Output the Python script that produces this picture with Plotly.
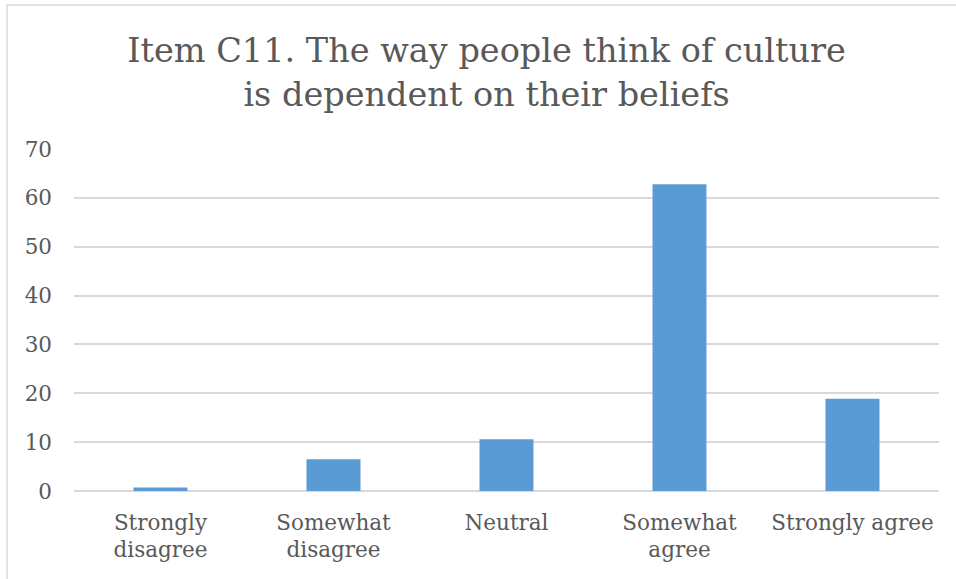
import plotly.graph_objects as go

# Survey responses (percent of respondents)
categories = ["Strongly<br>disagree", "Somewhat<br>disagree", "Neutral",
              "Somewhat<br>agree", "Strongly agree"]
percentages = [0.7, 6.5, 10.6, 62.8, 18.9]
y_ticks = [0, 10, 20, 30, 40, 50, 60, 70]

title_text = "Item C11. The way people think of culture<br>is dependent on their beliefs"

FONT = "DejaVu Serif"
TEXT_GRAY = "#595959"
GRID_GRAY = "#d9d9d9"

fig = go.Figure(
    go.Bar(
        x=categories,
        y=percentages,
        marker=dict(color="#5b9bd5", line=dict(width=0)),
        hoverinfo="x+y",
    )
)

fig.update_layout(
    width=956,
    height=579,
    margin=dict(l=74, r=17, t=149, b=88),
    paper_bgcolor="white",
    plot_bgcolor="white",
    bargap=0.688,
    showlegend=False,
    font=dict(family=FONT, color=TEXT_GRAY, size=21),
    title=dict(
        text=title_text,
        x=0.509,
        xanchor="center",
        xref="container",
        y=0.893,
        yanchor="top",
        yref="container",
        font=dict(family=FONT, size=33.5, color=TEXT_GRAY),
    ),
)

fig.update_yaxes(
    range=[0, 70],
    tickvals=y_ticks,
    showgrid=True,
    gridcolor=GRID_GRAY,
    gridwidth=1.5,
    zeroline=True,
    zerolinecolor=GRID_GRAY,
    zerolinewidth=1.5,
    showline=False,
    ticks="",
    ticklabelstandoff=21,
    tickfont=dict(family=FONT, size=21.5, color=TEXT_GRAY),
    fixedrange=True,
)

fig.update_xaxes(
    showgrid=False,
    showline=False,
    ticks="",
    ticklabelstandoff=16,
    tickfont=dict(family=FONT, size=21.5, color=TEXT_GRAY),
    fixedrange=True,
)

# Thin chart-area frame along the top and left edges
fig.add_shape(
    type="rect",
    xref="paper", yref="paper",
    x0=(7 - 74) / 865, x1=(970 - 74) / 865,
    y0=(491 - 590) / 342, y1=(491 - 5) / 342,
    line=dict(color=GRID_GRAY, width=1.5),
    fillcolor="rgba(0,0,0,0)",
    layer="below",
)

fig.write_html("out.html")
